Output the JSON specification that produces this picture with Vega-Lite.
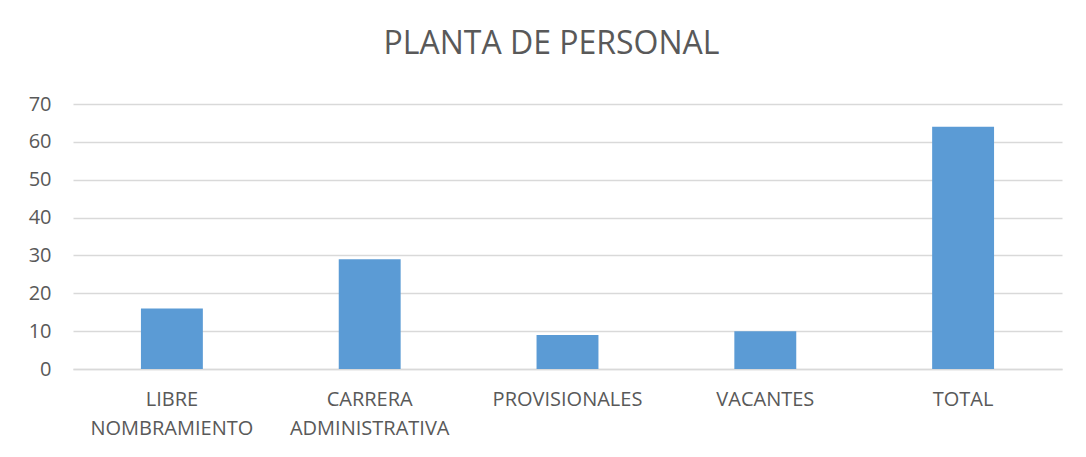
{
  "$schema": "https://vega.github.io/schema/vega-lite/v6.json",
  "autosize": {"type": "none"},
  "width": 989,
  "height": 265,
  "padding": {"left": 73, "top": 104, "right": 24, "bottom": 88},
  "background": "white",
  "title": {
    "text": "PLANTA DE PERSONAL",
    "anchor": "middle",
    "frame": "group",
    "baseline": "alphabetic",
    "offset": 8,
    "dx": -16,
    "font": "Open Sans",
    "fontSize": 32,
    "fontWeight": "normal",
    "color": "#595959"
  },
  "data": {
    "values": [
      {"categoria": "LIBRE NOMBRAMIENTO", "valor": 16},
      {"categoria": "CARRERA ADMINISTRATIVA", "valor": 29},
      {"categoria": "PROVISIONALES", "valor": 9},
      {"categoria": "VACANTES", "valor": 10},
      {"categoria": "TOTAL", "valor": 64}
    ]
  },
  "mark": {"type": "bar", "color": "#5b9bd5"},
  "encoding": {
    "x": {
      "field": "categoria",
      "type": "nominal",
      "sort": null,
      "scale": {"paddingInner": 0.687, "paddingOuter": 0.3435},
      "axis": {
        "title": null,
        "labelAngle": 0,
        "labelExpr": "split(datum.label, ' ')",
        "labelFont": "Open Sans",
        "labelFontSize": 20,
        "labelColor": "#595959",
        "labelLineHeight": 29,
        "labelPadding": 20,
        "ticks": false,
        "domainColor": "#d9d9d9",
        "domainWidth": 1.5
      }
    },
    "y": {
      "field": "valor",
      "type": "quantitative",
      "scale": {"domain": [0, 70]},
      "axis": {
        "title": null,
        "values": [0, 10, 20, 30, 40, 50, 60, 70],
        "labelFont": "Open Sans",
        "labelFontSize": 20,
        "labelColor": "#595959",
        "labelPadding": 22,
        "ticks": false,
        "domain": false,
        "gridColor": "#d9d9d9",
        "gridWidth": 1.5
      }
    }
  },
  "config": {"view": {"stroke": null}}
}
